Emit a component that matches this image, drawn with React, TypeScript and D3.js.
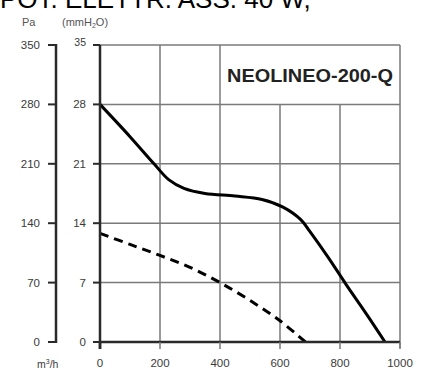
import * as d3 from 'd3';

const headline = "POT. ELETTR. ASS. 40 W,";
const modelName = "NEOLINEO-200-Q";

const flowTicks = [0, 200, 400, 600, 800, 1000];
const mmTicks = [0, 7, 14, 21, 28, 35];
const paTicks = [0, 70, 140, 210, 280, 350];

// [m3/h, mmH2O]
const maxCurve: [number, number][] = [
  [0, 28], [100, 24.2], [180, 21], [230, 19.1], [280, 18.1], [350, 17.5],
  [450, 17.2], [540, 16.8], [610, 15.9], [670, 14.4], [700, 13],
  [760, 10], [820, 6.8], [890, 3.2], [950, 0],
];
const minCurve: [number, number][] = [
  [0, 12.8], [100, 11.5], [200, 10.2], [300, 8.8], [400, 7],
  [500, 4.9], [600, 2.5], [685, 0],
];

const font = "'Liberation Sans', Arial, sans-serif";

export default function App() {
  const width = 422;
  const height = 370;
  const x = d3.scaleLinear().domain([0, 1000]).range([100, 400]);
  const y = d3.scaleLinear().domain([0, 35]).range([342, 45]);
  const yPa = d3.scaleLinear().domain([0, 350]).range([342, 45]);

  const line = d3.line<[number, number]>()
    .x(d => x(d[0]))
    .y(d => y(d[1]))
    .curve(d3.curveCatmullRom.alpha(0.5));

  const axisPa = 56;
  const gridColor = "#7a7a7a";
  const axisColor = "#2a2a2a";
  const labelColor = "#3a3a3a";

  return (
    <svg width={width} height={height} style={{ position: 'absolute', left: 0, top: 0 }}>
      <rect width={width} height={height} fill="#fff" />
      <text x={0} y={8} fontFamily={font} fontSize={26} fill="#000">{headline}</text>

      <text x={22} y={26} fontFamily={font} fontSize={11} fill="#555">Pa</text>
      <text x={62} y={26} fontFamily={font} fontSize={11} fill="#555">
        (mmH<tspan fontSize={7} dy={2}>2</tspan><tspan dy={-2}>O)</tspan>
      </text>

      {/* grid */}
      {mmTicks.filter(t => t > 0 && t < 35).map(t => (
        <line key={'h' + t} x1={x(0)} x2={x(1000)} y1={y(t)} y2={y(t)} stroke={gridColor} strokeWidth={1.5} />
      ))}
      {flowTicks.filter(t => t > 0 && t < 1000).map(t => (
        <line key={'v' + t} x1={x(t)} x2={x(t)} y1={y(0)} y2={t > 400 ? y(28) : y(35)} stroke={gridColor} strokeWidth={1.5} />
      ))}
      <line x1={x(0)} x2={x(1000)} y1={y(35)} y2={y(35)} stroke={gridColor} strokeWidth={1.5} />
      <line x1={x(1000)} x2={x(1000)} y1={y(35)} y2={y(0) + 6} stroke={gridColor} strokeWidth={1.5} />

      <text x={393} y={82} textAnchor="end" fontFamily={font} fontSize={18} fontWeight="bold" fill="#222"
        textLength={166} lengthAdjust="spacingAndGlyphs">{modelName}</text>

      {/* curves */}
      <path d={line(maxCurve) ?? ''} fill="none" stroke="#000" strokeWidth={3} />
      <path d={line(minCurve) ?? ''} fill="none" stroke="#000" strokeWidth={3} strokeDasharray="9 6" />

      {/* bottom axis */}
      <line x1={x(0) - 1} x2={x(1000)} y1={y(0)} y2={y(0)} stroke={axisColor} strokeWidth={2.5} />
      {flowTicks.map(t => (
        <g key={'xt' + t}>
          <line x1={x(t)} x2={x(t)} y1={y(0)} y2={y(0) + 7} stroke={t === 0 ? axisColor : gridColor} strokeWidth={t === 0 ? 2.5 : 1.5} />
          <text x={x(t)} y={367} textAnchor="middle" fontFamily={font} fontSize={11.5} fill={labelColor}>{t}</text>
        </g>
      ))}
      <text x={37} y={368} fontFamily={font} fontSize={10.5} fill={labelColor}>
        m<tspan fontSize={7} dy={-4}>3</tspan><tspan dy={4}>/h</tspan>
      </text>

      {/* mmH2O axis */}
      <line x1={x(0)} x2={x(0)} y1={y(35)} y2={y(0) + 7} stroke={axisColor} strokeWidth={2.5} />
      {mmTicks.map(t => (
        <g key={'mm' + t}>
          <line x1={x(0) - 7} x2={x(0)} y1={y(t)} y2={y(t)} stroke={axisColor} strokeWidth={2} />
          <text x={86} y={y(t)} dy={t === 35 ? '0.1em' : '0.35em'} textAnchor="end" fontFamily={font} fontSize={t === 35 ? 10.5 : 11.5} fill={labelColor}>{t}</text>
        </g>
      ))}

      {/* Pa axis */}
      <line x1={axisPa} x2={axisPa} y1={yPa(350) - 1} y2={yPa(0) + 1} stroke={axisColor} strokeWidth={2.5} />
      {paTicks.map(t => (
        <g key={'pa' + t}>
          <line x1={axisPa - 8} x2={axisPa} y1={yPa(t)} y2={yPa(t)} stroke={axisColor} strokeWidth={2} />
          <text x={40} y={yPa(t)} dy="0.35em" textAnchor="end" fontFamily={font} fontSize={11.5} fill={labelColor}>{t}</text>
        </g>
      ))}
    </svg>
  );
}
